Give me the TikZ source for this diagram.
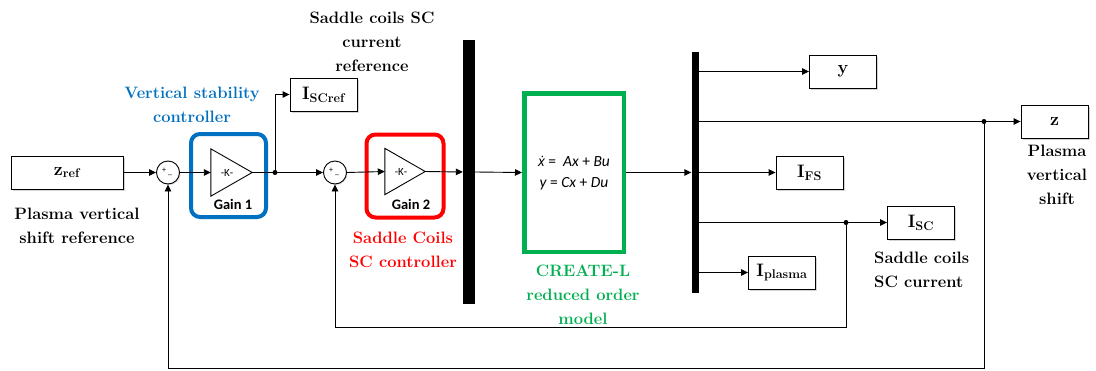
\documentclass[tikz,border=0pt]{standalone}
\usepackage{fontspec}
\newfontfamily\calibri{Carlito}
\newfontfamily\notosans{Noto Sans}
\usetikzlibrary{arrows.meta,shadows}
\definecolor{vsblue}{RGB}{0,112,192}
\definecolor{scred}{RGB}{255,0,0}
\definecolor{plgreen}{RGB}{0,176,80}
\begin{document}
\begin{tikzpicture}[x=1pt,y=-1pt,
  wire/.style={line width=0.9pt},
  sig/.style={wire,-{Triangle[length=7pt,width=6.5pt]}},
  blk/.style={draw,line width=0.9pt,fill=white,inner sep=0pt,minimum width=67pt,minimum height=33pt,
    drop shadow={shadow xshift=1.5pt,shadow yshift=-1.5pt,opacity=0.35}},
  lbl/.style={font=\fontsize{16.5}{24}\selectfont\bfseries,align=center,inner sep=0pt},
  boxtxt/.style={font=\fontsize{18}{20}\selectfont\bfseries},
  sumnode/.style={circle,draw,line width=0.9pt,minimum size=23pt,inner sep=0pt,fill=white,
    drop shadow={shadow xshift=1pt,shadow yshift=-1pt,opacity=0.3}},
  signlbl/.style={font=\calibri\fontsize{8}{8}\selectfont,inner sep=0pt},
  gainbox/.style={inner sep=0pt},
  gainname/.style={font=\calibri\fontsize{14.5}{15}\selectfont\bfseries,inner sep=0pt},
  bus/.style={fill=black,inner sep=0pt},
  jdot/.style={circle,fill=black,inner sep=0pt,minimum size=5pt},
  ctrl/.style={draw,rounded corners=9pt,inner sep=0pt}
]
\useasboundingbox (0,0) rectangle (1096,370);

% controller frames
\node[ctrl,vsblue,line width=4pt,minimum width=75pt,minimum height=83pt] (vsc) at (228.5,175.5) {};
\node[ctrl,scred,line width=4pt,minimum width=77pt,minimum height=83pt] (scc) at (405,176) {};

% reference block and summing junctions
\node[blk,minimum width=112pt,boxtxt] (zref) at (67,172.5) {z\textsubscript{ref}};
\node[sumnode] (s1) at (168,172.5) {};
\node[signlbl] at (164,170.5) {+};
\node[signlbl] at (170,175) {\_};
\node[sumnode] (s2) at (335,172.5) {};
\node[signlbl] at (331,170.5) {+};
\node[signlbl] at (337,175) {\_};

% gains
\node[gainbox,minimum width=41pt,minimum height=47pt] (g1) at (231.5,172.5) {};
\draw[wire,fill=white] (g1.north west) -- (g1.east) -- (g1.south west) -- cycle;
\node[font=\calibri\fontsize{11}{11}\selectfont] at (227,172.5) {-K-};
\node[gainname] (g1n) at (233,204) {Gain 1};
\node[gainbox,minimum width=40pt,minimum height=46pt] (g2) at (405,171.5) {};
\draw[wire,fill=white] (g2.north west) -- (g2.east) -- (g2.south west) -- cycle;
\node[font=\calibri\fontsize{11}{11}\selectfont] at (401,171.5) {-K-};
\node[gainname] (g2n) at (411,204) {Gain 2};

% current reference output
\node[blk,boxtxt] (iscref) at (323.5,94.5) {I\textsubscript{SCref}};
\coordinate (j1) at (275,172.5);

% buses and plant
\node[bus,minimum width=12pt,minimum height=264pt] (bar1) at (469,172) {};
\node[draw,plgreen,line width=4.5pt,fill=white,minimum width=99.5pt,minimum height=158.5pt,inner sep=0pt] (plant) at (574,172.5) {};
\node[font=\calibri\fontsize{15.5}{21}\selectfont,align=center] (eq) at (574,173.5)
  {{\notosans\itshape\fontsize{14}{21}\selectfont ẋ}\ = \ {\itshape Ax} + {\itshape Bu}\\{\itshape y} = {\itshape Cx} + {\itshape Du}};
\node[bus,minimum width=7pt,minimum height=241pt] (bar2) at (695,172.5) {};

% outputs
\node[blk,boxtxt] (yout) at (843,71.5) {y};
\node[blk,boxtxt] (zout) at (1054.5,121.5) {z};
\node[blk,boxtxt] (ifs) at (809.5,172.5) {I\textsubscript{FS}};
\node[blk,boxtxt] (isc) at (921,222.5) {I\textsubscript{SC}};
\node[blk,boxtxt] (ipl) at (782,272.5) {I\textsubscript{plasma}};
\coordinate (jz) at (984,121.5);
\coordinate (jsc) at (846,222.5);
\coordinate (fbsc) at (846,327);
\coordinate (fbz) at (984,368.5);

% forward path
\draw[sig] (zref.east) -- (s1.west);
\draw[sig] (s1.east) -- (g1.west);
\draw[wire] (g1.east) -- (j1);
\draw[sig] (j1) -- (s2.west);
\draw[sig] (j1) |- (iscref.west);
\draw[sig] (s2.east) -- (g2.west);
\draw[sig] (g2.east) -- (bar1.west);
\draw[sig] (bar1.east) -- (plant.west);
\draw[sig] (plant.east) -- (bar2.west);

% demultiplexed outputs
\draw[sig] (bar2.east |- yout.west) -- (yout.west);
\draw[sig] (bar2.east |- zout.west) -- (zout.west);
\draw[sig] (bar2.east |- ifs.west) -- (ifs.west);
\draw[sig] (bar2.east |- isc.west) -- (isc.west);
\draw[sig] (bar2.east |- ipl.west) -- (ipl.west);

% feedback loops
\draw[sig] (jsc) -- (fbsc) -| (s2.south);
\draw[sig] (jz) -- (fbz) -| (s1.south);
\node[jdot] at (j1) {};
\node[jdot] at (jz) {};
\node[jdot] at (jsc) {};

% annotations
\node[lbl] (tscref) at (372,42) {Saddle coils SC\\current\\reference};
\node[lbl,vsblue] (tvsc) at (192,105) {Vertical stability\\controller};
\node[lbl] (tzref) at (77,226) {Plasma vertical\\shift reference};
\node[lbl,scred] (tscc) at (403,250) {Saddle Coils\\SC controller};
\node[lbl,plgreen] (tcl) at (583,295) {CREATE-L\\reduced order\\model};
\node[lbl] (tz) at (1057,175) {Plasma\\vertical\\shift};
\node[lbl,align=left,anchor=west] (tsc) at (874,270) {Saddle coils\\SC current};
\end{tikzpicture}
\end{document}
